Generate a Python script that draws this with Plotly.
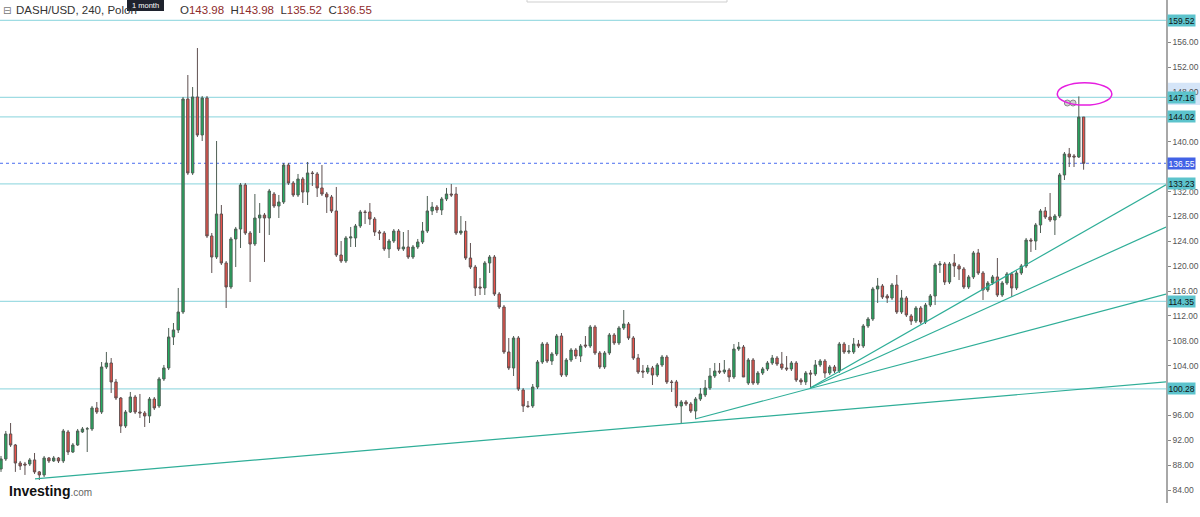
import plotly.graph_objects as go

# DASH/USD 4h candles (oldest first)
opens = [
    87.40, 89.01, 93.03, 91.26, 88.36, 88.20, 88.20, 88.85, 86.93, 86.44,
    89.17, 88.69, 89.17, 88.69, 93.35, 90.13, 91.26, 93.35, 93.83, 93.83,
    97.21, 96.56, 103.80, 104.44, 101.39, 98.81, 94.31, 96.56, 98.97, 96.56,
    96.40, 95.92, 98.65, 97.53, 101.87, 103.64, 108.62, 109.75, 112.64, 146.88,
    134.99, 147.21, 141.10, 147.04, 124.86, 121.48, 128.39, 120.52, 116.66, 124.38,
    125.98, 133.06, 125.34, 123.57, 127.75, 128.23, 127.75, 131.61, 129.68, 130.32,
    136.27, 133.38, 131.45, 134.02, 131.93, 134.99, 134.83, 132.58, 131.61, 131.13,
    128.88, 121.80, 120.84, 124.54, 124.54, 126.47, 128.72, 128.72, 127.59, 125.50,
    125.34, 122.77, 124.05, 125.66, 122.77, 123.09, 121.48, 123.09, 123.89, 125.66,
    128.88, 129.52, 129.04, 130.81, 131.61, 131.61, 125.34, 125.66, 121.32, 119.87,
    116.66, 116.50, 120.52, 121.48, 115.53, 113.44, 106.21, 103.64, 108.46, 100.10,
    97.53, 97.53, 100.58, 104.60, 107.49, 104.76, 105.89, 108.78, 102.51, 104.92,
    106.53, 105.56, 107.33, 107.17, 110.23, 106.05, 103.80, 106.05, 108.94, 107.66,
    110.07, 110.71, 108.46, 105.24, 103.15, 102.99, 103.64, 102.51, 104.12, 105.40,
    101.39, 101.39, 97.53, 98.17, 97.85, 96.72, 98.65, 99.30, 100.42, 102.35,
    103.15, 102.99, 103.31, 102.19, 106.69, 107.01, 101.22, 104.92, 101.22, 102.83,
    103.48, 104.44, 105.24, 104.28, 103.64, 103.48, 104.44, 101.71, 101.39, 102.83,
    102.67, 104.12, 104.76, 102.83, 103.80, 103.15, 107.49, 106.21, 106.21, 107.49,
    107.17, 110.39, 111.51, 116.34, 116.82, 115.21, 114.89, 116.98, 112.64, 114.89,
    112.00, 111.19, 113.28, 111.03, 113.76, 115.21, 120.20, 120.36, 117.46, 120.52,
    120.04, 119.55, 116.66, 118.27, 122.13, 118.91, 116.18, 117.30, 118.27, 115.37,
    117.30, 118.75, 116.50, 118.91, 120.04, 124.21, 124.05, 126.63, 128.88, 127.91,
    127.43, 128.07, 134.67, 138.04, 137.72, 137.56, 143.98,
]
highs = [
    89.49, 93.51, 94.79, 91.42, 88.69, 88.53, 89.17, 89.97, 87.08, 89.49,
    89.33, 89.49, 89.33, 93.83, 93.67, 91.58, 93.83, 94.15, 94.15, 97.53,
    98.17, 104.60, 106.21, 105.24, 101.87, 98.97, 96.88, 99.78, 99.30, 99.46,
    96.72, 98.97, 98.97, 102.19, 104.12, 110.07, 110.87, 116.50, 147.21, 150.74,
    148.81, 155.08, 147.37, 147.37, 125.34, 140.13, 129.84, 120.84, 124.70, 126.31,
    133.38, 133.38, 125.66, 131.61, 130.16, 128.56, 132.42, 131.93, 131.45, 136.59,
    136.59, 133.70, 134.83, 134.34, 136.76, 135.31, 135.15, 136.27, 131.93, 131.45,
    132.74, 124.05, 124.86, 126.31, 126.79, 129.04, 129.04, 130.16, 127.91, 125.82,
    125.66, 124.38, 125.98, 125.98, 125.50, 125.82, 123.41, 124.38, 127.11, 131.29,
    130.32, 129.84, 131.13, 132.58, 133.22, 132.74, 128.07, 127.27, 123.73, 120.20,
    118.11, 120.84, 121.80, 121.80, 115.85, 113.76, 108.46, 108.78, 108.78, 100.42,
    98.33, 101.06, 104.92, 107.82, 107.82, 106.21, 109.10, 109.26, 105.24, 106.85,
    106.85, 107.49, 108.78, 110.55, 110.55, 106.37, 106.37, 109.26, 109.26, 110.39,
    112.96, 111.03, 108.78, 105.89, 104.12, 104.12, 103.96, 104.44, 105.73, 105.73,
    101.71, 101.71, 98.49, 98.49, 98.17, 98.97, 100.42, 101.71, 103.64, 104.44,
    104.44, 104.92, 103.64, 107.49, 107.82, 107.33, 105.24, 105.24, 103.15, 103.80,
    104.76, 105.73, 105.56, 106.21, 105.56, 104.76, 104.76, 102.03, 103.15, 103.31,
    104.92, 105.08, 105.08, 104.12, 104.12, 107.82, 107.82, 107.33, 108.46, 108.14,
    110.71, 111.83, 116.66, 118.11, 117.14, 115.53, 117.30, 118.59, 116.18, 115.21,
    112.32, 113.60, 113.60, 114.09, 115.53, 120.52, 120.84, 120.68, 120.68, 121.96,
    120.36, 119.87, 118.59, 122.45, 122.77, 119.23, 117.62, 118.59, 121.32, 117.62,
    119.07, 119.07, 119.23, 120.36, 124.54, 124.54, 126.95, 129.20, 129.52, 131.77,
    128.39, 134.99, 138.36, 139.01, 138.04, 147.30, 143.98,
]
lows = [
    86.93, 88.69, 90.94, 86.93, 87.24, 86.44, 87.88, 86.60, 85.63, 86.11,
    88.36, 88.53, 88.36, 88.36, 89.65, 89.97, 91.10, 93.19, 90.13, 93.51,
    96.24, 96.24, 103.48, 99.62, 98.49, 93.19, 93.99, 96.40, 96.24, 95.60,
    94.15, 94.79, 96.88, 97.21, 101.55, 103.31, 107.33, 109.26, 112.32, 134.67,
    134.67, 140.78, 140.13, 124.54, 118.91, 121.16, 120.20, 113.28, 116.34, 119.87,
    122.93, 125.02, 117.46, 123.25, 125.34, 120.68, 125.02, 129.36, 127.75, 130.00,
    133.06, 131.13, 131.13, 130.16, 129.84, 132.90, 131.13, 131.29, 128.56, 128.56,
    121.48, 120.52, 120.52, 123.09, 123.09, 126.15, 126.79, 126.63, 124.86, 124.21,
    122.45, 121.32, 123.73, 122.45, 122.45, 121.16, 121.16, 122.77, 123.57, 125.34,
    128.23, 128.56, 128.23, 130.48, 131.13, 125.02, 125.02, 121.00, 119.55, 115.21,
    115.37, 115.37, 118.91, 115.21, 113.12, 105.89, 103.31, 102.35, 99.94, 96.56,
    97.21, 97.21, 100.26, 104.28, 104.44, 104.12, 105.56, 102.19, 102.19, 104.60,
    105.08, 104.60, 106.85, 106.85, 105.73, 103.48, 103.48, 105.73, 107.33, 107.33,
    109.75, 108.14, 104.92, 102.67, 102.03, 102.67, 100.90, 102.19, 103.80, 101.06,
    99.78, 97.21, 94.63, 97.53, 96.40, 95.44, 98.33, 98.97, 100.10, 102.03,
    102.67, 102.67, 101.39, 101.87, 106.37, 102.19, 100.90, 100.90, 100.90, 102.51,
    103.15, 104.12, 103.96, 103.31, 103.15, 103.15, 101.39, 100.90, 100.90, 100.42,
    102.35, 103.80, 102.03, 102.51, 102.83, 102.83, 105.89, 105.89, 105.89, 106.85,
    106.85, 110.07, 111.19, 114.09, 114.73, 114.09, 114.57, 112.32, 112.32, 111.83,
    110.55, 110.87, 110.71, 110.71, 113.44, 113.76, 118.91, 116.98, 117.14, 118.27,
    117.78, 116.34, 116.34, 117.94, 118.59, 114.57, 115.85, 116.98, 115.05, 115.05,
    116.98, 115.05, 116.18, 118.59, 119.71, 122.29, 122.61, 125.34, 127.59, 127.11,
    125.02, 127.75, 133.86, 135.95, 135.95, 137.40, 135.52,
]
closes = [
    89.01, 93.03, 91.26, 88.36, 87.88, 88.04, 88.85, 86.93, 86.44, 89.17,
    88.69, 89.17, 88.69, 93.51, 90.13, 91.26, 93.51, 93.83, 93.87, 97.21,
    96.56, 103.80, 104.44, 101.39, 98.81, 94.31, 96.56, 98.97, 96.56, 96.40,
    95.92, 98.65, 97.21, 101.87, 103.64, 108.62, 109.75, 112.64, 146.88, 134.99,
    147.21, 141.10, 147.04, 124.86, 121.48, 128.39, 120.52, 116.66, 124.38, 125.98,
    133.06, 125.34, 123.57, 127.75, 128.23, 127.75, 132.09, 129.68, 130.32, 136.27,
    133.38, 131.45, 134.02, 131.93, 134.99, 134.90, 132.58, 131.61, 131.13, 128.88,
    121.80, 120.84, 124.54, 124.70, 126.47, 128.72, 128.65, 127.59, 125.50, 125.34,
    122.77, 124.05, 125.66, 122.77, 123.09, 121.48, 123.09, 123.89, 125.66, 128.88,
    129.52, 129.04, 130.81, 131.61, 131.45, 125.34, 125.66, 121.32, 119.87, 116.50,
    116.50, 120.52, 121.48, 115.53, 113.44, 106.21, 103.64, 108.46, 100.26, 97.53,
    97.45, 100.58, 104.60, 107.49, 104.76, 105.89, 108.78, 102.51, 104.92, 106.53,
    105.56, 107.17, 107.17, 110.23, 106.05, 103.80, 106.05, 108.94, 107.66, 110.07,
    110.71, 108.46, 105.24, 102.99, 102.99, 103.64, 102.51, 104.12, 105.40, 101.39,
    101.31, 97.53, 98.17, 97.85, 96.72, 98.65, 99.46, 100.42, 102.35, 103.15,
    102.99, 103.31, 102.19, 106.69, 107.01, 102.19, 104.92, 101.22, 102.83, 103.48,
    104.44, 105.24, 104.28, 103.64, 103.48, 104.44, 101.71, 101.39, 102.83, 102.67,
    104.12, 104.76, 102.83, 103.80, 103.15, 107.49, 106.21, 106.37, 107.49, 107.17,
    110.39, 111.51, 116.34, 116.82, 115.05, 114.89, 116.98, 112.64, 114.89, 112.16,
    111.19, 113.28, 111.03, 113.76, 115.21, 120.20, 120.36, 117.46, 120.36, 120.04,
    119.55, 116.66, 118.27, 122.13, 118.91, 116.18, 117.30, 118.27, 115.37, 117.30,
    118.75, 116.50, 118.91, 120.04, 124.21, 124.05, 126.63, 128.88, 127.91, 127.43,
    128.07, 134.67, 138.04, 137.56, 137.56, 143.98, 136.55,
]
bars = list(range(len(closes)))

# drawn horizontal levels and the last price
levels = [159.52, 147.16, 144.02, 133.23, 114.35, 100.28]
last_price = 136.55

# trend lines: (start bar, start price, end bar, end price)
trendlines = [
    (7.1, 85.8, 243.2, 101.4),
    (144.9, 95.44, 243.2, 115.5),
    (168.9, 100.42, 243.2, 126.3),
    (168.9, 100.42, 243.2, 133.1),
]

# magenta ellipse around the spike and its two handles
ellipse_bars = (220.5, 231.9)
ellipse_prices = (145.9, 149.5)
handle_bars = [222.6, 223.8]
handle_prices = [146.24, 146.24]

# price scale; the labels hidden under the level boxes are left blank
tick_vals = list(range(84, 157, 4))
hidden_ticks = [100, 136, 144]
tick_text = ["" if v in hidden_ticks else f"{v:.2f}" for v in tick_vals]

X_RANGE = [-0.21, 243.2]
Y_RANGE = [81.93, 162.80]
PLOT_W = 1166  # px of plot area
PLOT_H = 503
FONT = "Liberation Sans, Arial, sans-serif"

fig = go.Figure()

fig.add_trace(go.Candlestick(
    x=bars, open=opens, high=highs, low=lows, close=closes,
    increasing=dict(fillcolor="#22ab5f", line=dict(color="#4f5f55", width=1)),
    decreasing=dict(fillcolor="#e8524a", line=dict(color="#5f5050", width=1)),
    whiskerwidth=0,
    showlegend=False,
    hoverinfo="skip",
))

fig.add_trace(go.Scatter(
    x=handle_bars, y=handle_prices, mode="markers",
    marker=dict(size=6, color="#d0d0d0", line=dict(color="#8a8a8a", width=1)),
    showlegend=False, hoverinfo="skip",
))

shapes = []
for lv in levels:
    shapes.append(dict(type="line", xref="paper", yref="y", x0=0, x1=1, y0=lv, y1=lv,
                       line=dict(color="#9fdce3", width=1.3), layer="below"))
shapes.append(dict(type="line", xref="paper", yref="y", x0=0, x1=1,
                   y0=last_price, y1=last_price,
                   line=dict(color="#4a6cf0", width=1, dash="dot"), layer="below"))
for x0, y0, x1, y1 in trendlines:
    shapes.append(dict(type="line", xref="x", yref="y", x0=x0, y0=y0, x1=x1, y1=y1,
                       line=dict(color="#2fae98", width=1.2)))
shapes.append(dict(type="circle", xref="x", yref="y",
                   x0=ellipse_bars[0], x1=ellipse_bars[1],
                   y0=ellipse_prices[0], y1=ellipse_prices[1],
                   line=dict(color="#e61ee0", width=1.5)))
# selection highlight on the price scale
shapes.append(dict(type="rect", xref="paper", yref="y", x0=1.0, x1=1.03,
                   y0=ellipse_prices[0], y1=ellipse_prices[1],
                   fillcolor="#d5e5f8", line=dict(width=0), layer="below"))
# little toolbar edge at the top centre
shapes.append(dict(type="rect", xref="paper", yref="paper",
                   x0=527 / PLOT_W, x1=727 / PLOT_W, y0=0.996, y1=1.01,
                   line=dict(color="#cfcfcf", width=1), fillcolor="white"))
# "1 month" tooltip box
shapes.append(dict(type="rect", xref="paper", yref="paper",
                   x0=127 / PLOT_W, x1=164 / PLOT_W, y0=1 - 11 / PLOT_H, y1=1.01,
                   fillcolor="#1e222d", line=dict(width=0)))

annotations = []
for lv in levels:
    annotations.append(dict(xref="paper", yref="y", x=1, y=lv, xanchor="left", yanchor="middle",
                            text=f"{lv:.2f}", showarrow=False, bgcolor="#5cc3cc",
                            font=dict(family=FONT, size=8.5, color="#111"),
                            borderpad=0.5, xshift=1))
annotations.append(dict(xref="paper", yref="y", x=1, y=last_price, xanchor="left", yanchor="middle",
                        text=f"{last_price:.2f}", showarrow=False, bgcolor="#4262e6",
                        font=dict(family=FONT, size=8.5, color="white"),
                        borderpad=0.5, xshift=1))

hdr_y = 1 - 10 / PLOT_H
annotations += [
    dict(xref="paper", yref="paper", x=1 / PLOT_W, y=hdr_y, xanchor="left", yanchor="middle",
         text="⊟", showarrow=False, font=dict(family="DejaVu Sans", size=10, color="#777")),
    dict(xref="paper", yref="paper", x=14 / PLOT_W, y=hdr_y, xanchor="left", yanchor="middle",
         text="DASH/USD, 240, Polon", showarrow=False,
         font=dict(family=FONT, size=11.5, color="#333")),
    dict(xref="paper", yref="paper", x=145.5 / PLOT_W, y=1 - 5 / PLOT_H, xanchor="center",
         yanchor="middle", text="1 month", showarrow=False,
         font=dict(family=FONT, size=7.5, color="white")),
    dict(xref="paper", yref="paper", x=178 / PLOT_W, y=hdr_y, xanchor="left", yanchor="middle",
         text=("O<span style='color:#8e2b2b'>143.98</span>  "
               "H<span style='color:#8e2b2b'>143.98</span>  "
               "L<span style='color:#8e2b2b'>135.52</span>  "
               "C<span style='color:#8e2b2b'>136.55</span>"),
         showarrow=False, font=dict(family=FONT, size=11.5, color="#333")),
    dict(xref="paper", yref="paper", x=7 / PLOT_W, y=1 - 491 / PLOT_H, xanchor="left",
         yanchor="middle", showarrow=False,
         text="<b>Investing</b><span style='font-size:10px;color:#666'>.com</span>",
         font=dict(family=FONT, size=14, color="#111")),
]

fig.update_layout(
    width=1200, height=517,
    margin=dict(l=0, r=34, t=0, b=14),
    paper_bgcolor="white", plot_bgcolor="rgba(0,0,0,0)",
    shapes=shapes, annotations=annotations,
    xaxis=dict(range=X_RANGE, visible=False, rangeslider=dict(visible=False),
               showgrid=False, zeroline=False, fixedrange=True),
    yaxis=dict(range=Y_RANGE, side="right", showgrid=False, zeroline=False,
               tickvals=tick_vals, ticktext=tick_text,
               ticks="outside", ticklen=3, tickcolor="#888",
               showline=True, linecolor="#a8a8a8", linewidth=1.5,
               tickfont=dict(family=FONT, size=8.5, color="#555")),
)

# the page's default body margin would push the 1200x517 figure out of the window
fig.write_html("out.html", config={"displayModeBar": False},
               post_script="document.body.style.margin='0';")
